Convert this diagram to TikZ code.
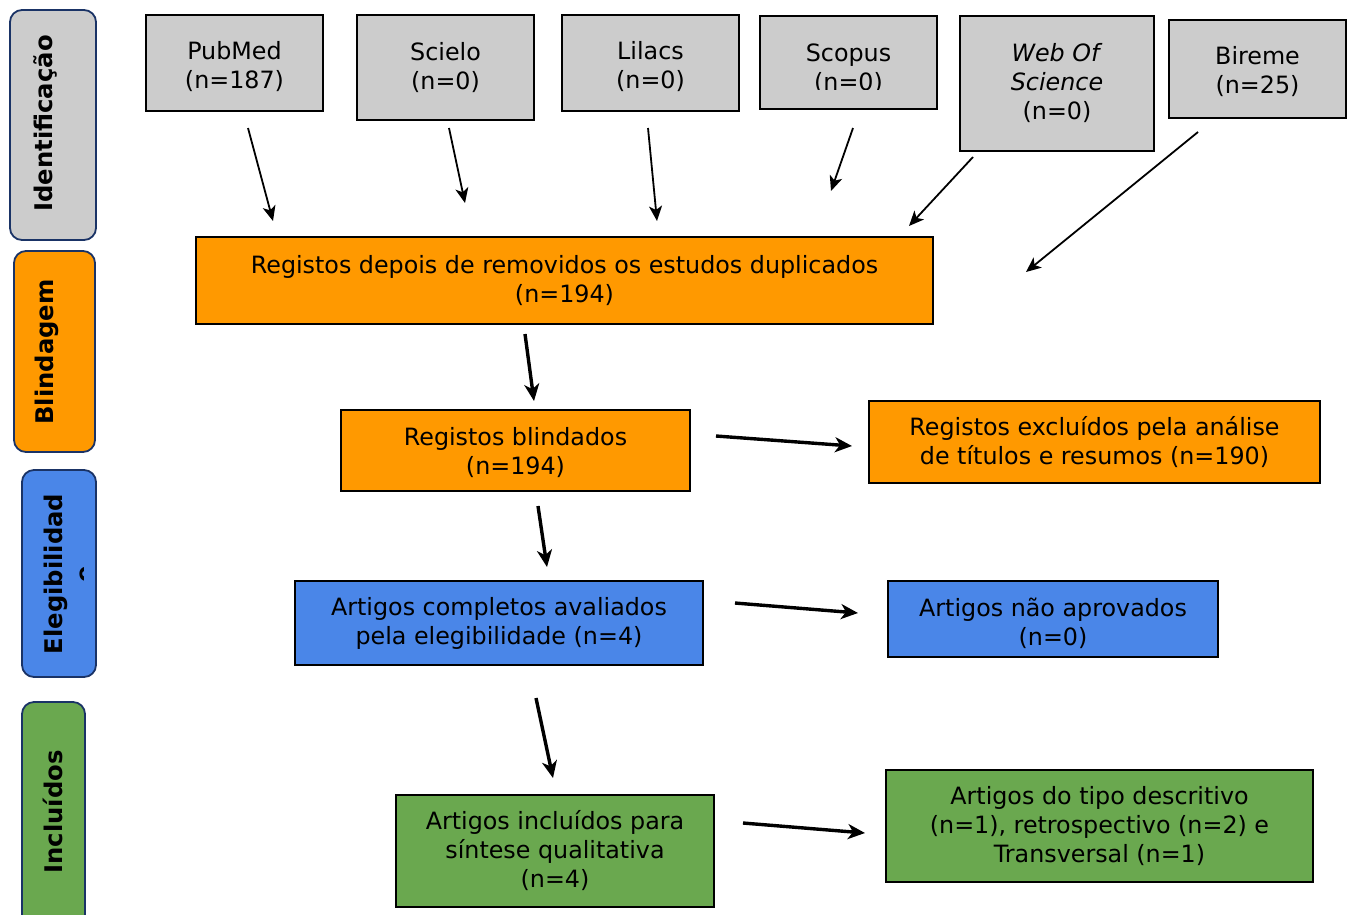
\documentclass[tikz,border=0pt]{standalone}
\usepackage{fontspec}
\setmainfont{DejaVu Sans}
\usetikzlibrary{arrows.meta}
\definecolor{boxgray}{HTML}{CCCCCC}
\definecolor{boxorange}{HTML}{FF9900}
\definecolor{boxblue}{HTML}{4A86E8}
\definecolor{boxgreen}{HTML}{6AA84F}
\definecolor{labelborder}{HTML}{1A3366}
\begin{document}
\begin{tikzpicture}[x=1pt,y=-1pt,
  box/.style={draw=black, line width=1.3pt, align=center, inner sep=0pt,
    font=\fontsize{23.8}{29}\selectfont},
  boxtext/.style={align=center, inner sep=0pt, font=\fontsize{23.8}{29}\selectfont},
  stagebox/.style={draw=labelborder, line width=1.8pt, rounded corners=12pt},
  stagetext/.style={rotate=90, anchor=base, inner sep=0pt,
    font=\fontsize{24.3}{29}\selectfont\bfseries},
  thinarrow/.style={line width=1.8pt, -{Stealth[length=15pt,width=13pt,inset=4pt]}},
  thickarrow/.style={line width=3.4pt, -{Stealth[length=17pt,width=15pt,inset=5pt]}}
]
\clip (0,0) rectangle (1348,914);
\fill[white] (0,0) rectangle (1348,914);

% stage labels
\draw[stagebox, fill=boxgray] (10,10) rectangle (96,240);
\node[stagetext] (lid) at (52,123.5) {Identificação};
\draw[stagebox, fill=boxorange] (14,251) rectangle (95,452);
\node[stagetext] (lbl) at (53,352) {Blindagem};
\draw[stagebox, fill=boxblue] (22,470) rectangle (96,677);
\node[stagetext] (lel) at (62,574) {Elegibilidad};
\begin{scope}
  \clip (70,540) rectangle (83.5,610);
  \node[stagetext] (lele) at (93,574) {e};
\end{scope}
\draw[stagebox, fill=boxgreen] (22,702) rectangle (85,940);
\node[stagetext] (lin) at (62,812) {Incluídos};

% source boxes
\node[box, fill=boxgray, minimum width=177pt, minimum height=96pt] (pubmed) at (234.5,63) {};
\node[boxtext] (pubmedt) at (234.5,67) {PubMed\\(n=187)};
\node[box, fill=boxgray, minimum width=177pt, minimum height=105pt] (scielo) at (445.5,67.5) {Scielo\\(n=0)};
\node[box, fill=boxgray, minimum width=177pt, minimum height=96pt] (lilacs) at (650.5,63) {};
\node[boxtext] (lilacst) at (650.5,67) {Lilacs\\(n=0)};
\node[box, fill=boxgray, minimum width=177pt, minimum height=93pt] (scopus) at (848.5,62.5) {};
\begin{scope}
  \clip (760,16) rectangle (937,89);
  \node[boxtext] (scopust) at (848.5,68.5) {Scopus\\(n=0)};
\end{scope}
\node[box, fill=boxgray, minimum width=194pt, minimum height=135pt] (wos) at (1057,83.5) {\textit{Web Of}\\\textit{Science}\\(n=0)};
\node[box, fill=boxgray, minimum width=177pt, minimum height=98pt] (bireme) at (1257.5,69) {};
\node[boxtext] (biremet) at (1257.5,72) {Bireme\\(n=25)};

% flow boxes
\node[box, fill=boxorange, minimum width=737pt, minimum height=87pt] (dup) at (564.5,280.5) {Registos depois de removidos os estudos duplicados\\(n=194)};
\node[box, fill=boxorange, minimum width=349pt, minimum height=81pt] (blind) at (515.5,450.5) {};
\node[boxtext] (blindt) at (515.5,452.5) {Registos blindados\\(n=194)};
\node[box, fill=boxorange, minimum width=451pt, minimum height=82pt] (excl) at (1094.5,442) {Registos excluídos pela análise\\de títulos e resumos (n=190)};
\node[box, fill=boxblue, minimum width=408pt, minimum height=84pt] (compl) at (499,623) {Artigos completos avaliados\\pela elegibilidade (n=4)};
\node[box, fill=boxblue, minimum width=330pt, minimum height=76pt] (naoap) at (1053,619) {};
\node[boxtext] (naoapt) at (1053,623) {Artigos não aprovados\\(n=0)};
\node[box, fill=boxgreen, minimum width=318pt, minimum height=112pt] (incl) at (555,851) {Artigos incluídos para\\síntese qualitativa\\(n=4)};
\node[box, fill=boxgreen, minimum width=427pt, minimum height=112pt] (tipo) at (1099.5,826) {Artigos do tipo descritivo\\(n=1), retrospectivo (n=2) e\\Transversal (n=1)};

% arrow end points
\coordinate (a1s) at (248,128);  \coordinate (a1e) at (273,221);
\coordinate (a2s) at (449,128);  \coordinate (a2e) at (465,203);
\coordinate (a3s) at (648,128);  \coordinate (a3e) at (657,221);
\coordinate (a4s) at (853,128);  \coordinate (a4e) at (831,191);
\coordinate (a5s) at (973,157);  \coordinate (a5e) at (909,226);
\coordinate (a6s) at (1198,132); \coordinate (a6e) at (1026,272);
\coordinate (b1s) at (525,334);  \coordinate (b1e) at (534,401);
\coordinate (b2s) at (716,436);  \coordinate (b2e) at (852,446);
\coordinate (b3s) at (538,506);  \coordinate (b3e) at (547,567);
\coordinate (b4s) at (735,603);  \coordinate (b4e) at (858,613);
\coordinate (b5s) at (536,698);  \coordinate (b5e) at (553,778);
\coordinate (b6s) at (743,823);  \coordinate (b6e) at (865,833);

\draw[thinarrow] (a1s) -- (a1e);
\draw[thinarrow] (a2s) -- (a2e);
\draw[thinarrow] (a3s) -- (a3e);
\draw[thinarrow] (a4s) -- (a4e);
\draw[thinarrow] (a5s) -- (a5e);
\draw[thinarrow] (a6s) -- (a6e);
\draw[thickarrow] (b1s) -- (b1e);
\draw[thickarrow] (b2s) -- (b2e);
\draw[thickarrow] (b3s) -- (b3e);
\draw[thickarrow] (b4s) -- (b4e);
\draw[thickarrow] (b5s) -- (b5e);
\draw[thickarrow] (b6s) -- (b6e);
\end{tikzpicture}
\end{document}
